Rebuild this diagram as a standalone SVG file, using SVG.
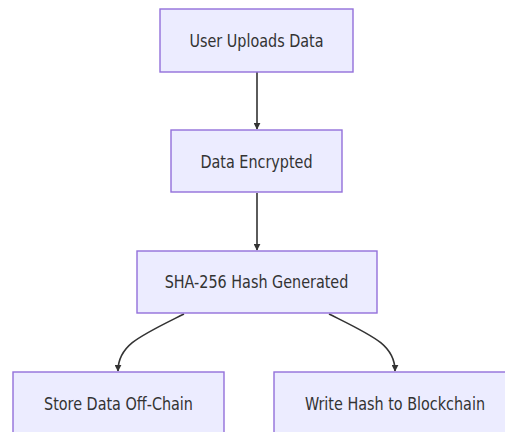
<svg xmlns="http://www.w3.org/2000/svg" width="505" height="432" viewBox="0 0 505 432">
  <style>
    .node rect { fill: #ECECFF; stroke: #9370DB; stroke-width: 1.4; }
    .node text { font-family: "DejaVu Sans Condensed", "DejaVu Sans", sans-serif; font-size: 16px; fill: #333; text-anchor: middle; }
    .edge { fill: none; stroke: #333; stroke-width: 1.6; }
  </style>
  <defs>
    <marker id="arrow" viewBox="0 0 10 10" refX="9" refY="5" markerWidth="7" markerHeight="7" orient="auto" markerUnits="userSpaceOnUse">
      <path d="M0,0 L10,5 L0,10 z" fill="#333"/>
    </marker>
  </defs>
  <rect width="505" height="432" fill="#ffffff"/>
  <g id="connectors">
    <path class="edge" d="M257,72 L257,129" marker-end="url(#arrow)"/>
    <path class="edge" d="M257,193 L257,250" marker-end="url(#arrow)"/>
    <path class="edge" d="M184,314 C140,336 118,345 118,371" marker-end="url(#arrow)"/>
    <path class="edge" d="M329,314 C373,336 395,345 395,371" marker-end="url(#arrow)"/>
  </g>
  <g id="node-upload" class="node">
    <rect x="160" y="9" width="193" height="63"/>
    <text transform="translate(256.5,47.3) scale(1,1.12)">User Uploads Data</text>
  </g>
  <g id="node-encrypt" class="node">
    <rect x="171" y="130" width="171" height="62"/>
    <text transform="translate(256.5,168) scale(1,1.12)">Data Encrypted</text>
  </g>
  <g id="node-hash" class="node">
    <rect x="137" y="251" width="240" height="62"/>
    <text transform="translate(256.5,288) scale(1,1.12)">SHA-256 Hash Generated</text>
  </g>
  <g id="node-offchain" class="node">
    <rect x="13" y="372" width="211" height="70"/>
    <text transform="translate(118.5,410) scale(1,1.12)">Store Data Off-Chain</text>
  </g>
  <g id="node-blockchain" class="node">
    <rect x="274" y="372" width="245" height="70"/>
    <text transform="translate(395,410) scale(1,1.12)">Write Hash to Blockchain</text>
  </g>
</svg>
